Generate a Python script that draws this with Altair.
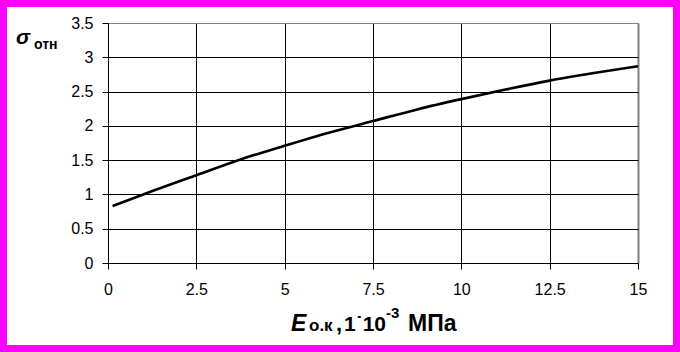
import altair as alt
import pandas as pd

# data
e_ok = [0.13, 1.0, 2.5, 3.75, 5.0, 6.25, 7.5, 8.75, 10.0, 11.25, 12.5, 13.75, 15.0]
sigma = [0.83, 1.0, 1.28, 1.51, 1.71, 1.90, 2.07, 2.24, 2.39, 2.53, 2.66, 2.77, 2.87]
x_ticks = [0, 2.5, 5, 7.5, 10, 12.5, 15]
y_ticks = [0, 0.5, 1, 1.5, 2, 2.5, 3, 3.5]

df = pd.DataFrame({"x": e_ok, "y": sigma})

FONT = "Liberation Sans"
L, T = 108, 23
W, H = 530, 240

line = alt.Chart(df).mark_line(color="black", strokeWidth=2.6, interpolate="monotone").encode(
    x=alt.X("x:Q", scale=alt.Scale(domain=[0, 15], nice=False, zero=False),
            axis=alt.Axis(values=x_ticks, format=".1~f", title=None, grid=True,
                          gridColor=alt.condition(alt.datum.value == 15, alt.value("#808080"), alt.value("black")),
                          gridWidth=alt.condition(alt.datum.value == 15, alt.value(2), alt.value(1)),
                          domainColor="black", tickColor="black", tickSize=6,
                          labelFont=FONT, labelFontSize=16, labelColor="black",
                          labelPadding=12, labelFlush=False)),
    y=alt.Y("y:Q", scale=alt.Scale(domain=[0, 3.5], nice=False, zero=True),
            axis=alt.Axis(values=y_ticks, format=".1~f", title=None, grid=True,
                          gridColor=alt.condition(alt.datum.value == 3.5, alt.value("#808080"), alt.value("black")),
                          domainColor="black", tickColor="black", tickSize=6,
                          labelFont=FONT, labelFontSize=16, labelColor="black",
                          labelPadding=9)),
)

one = alt.Data(values=[{"a": 1}])

def txt(s, x, y, size, italic=False, bold=True):
    return alt.Chart(one).mark_text(
        text=s, font=FONT, fontSize=size, fontWeight="bold" if bold else "normal",
        fontStyle="italic" if italic else "normal", align="left", baseline="alphabetic",
        color="black",
    ).encode(x=alt.value(x - L), y=alt.value(y - T))

texts = [
    txt("σ", 16, 43.5, 21, italic=True),
    txt("отн", 34, 49, 14),
    txt("E", 291, 331, 23, italic=True),
    txt("о.к", 309, 331, 17),
    txt(",", 336, 331, 22),
    txt("1˙10", 344, 331, 21),
    txt("-3", 386, 318, 15),
    txt("МПа", 408, 331, 23),
]

border = alt.Chart(one).mark_rect(filled=False, stroke="#ff00ff", strokeWidth=14).encode(
    x=alt.value(-L), x2=alt.value(680 - L), y=alt.value(-T), y2=alt.value(352 - T)
)

chart = alt.layer(line, *texts, border).properties(
    width=W, height=H,
    autosize=alt.AutoSizeParams(type="none"),
    padding={"left": L, "top": T, "right": 680 - L - W, "bottom": 352 - T - H},
    background="white",
).configure_view(stroke="#808080", strokeWidth=1)

chart.save("out.html", embed_options={"renderer": "svg", "actions": False})
